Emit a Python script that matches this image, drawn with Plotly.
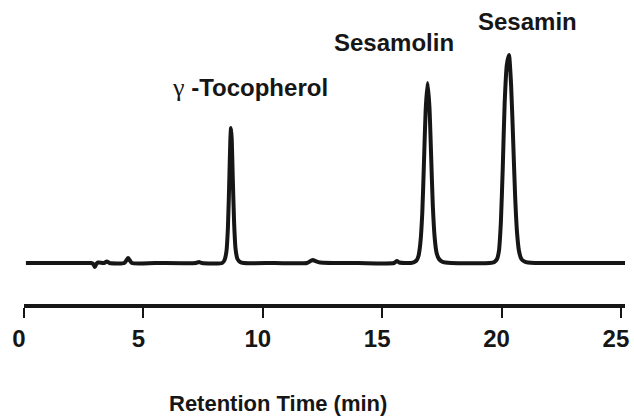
import plotly.graph_objects as go

# Retention time (min) and detector response (arbitrary units, baseline = 0)
time_min = [
    0.08, 1.0, 2.0, 2.6, 2.80, 2.90, 2.97, 3.03, 3.10, 3.35, 3.47, 3.58,
    4.20, 4.30, 4.36, 4.42, 4.52, 5.5, 7.20, 7.33, 7.45,
    8.30, 8.40, 8.48, 8.54, 8.60, 8.64, 8.67, 8.70, 8.74, 8.80, 8.86, 8.94, 9.05, 9.20,
    10.5, 11.85, 12.00, 12.10, 12.20, 12.40, 14.0, 15.50, 15.62, 15.72,
    16.20, 16.35, 16.45, 16.52, 16.60, 16.68, 16.75, 16.82, 16.90, 16.98, 17.05,
    17.12, 17.20, 17.28, 17.38, 17.50, 17.65, 17.90,
    19.50, 19.70, 19.81, 19.89, 19.97, 20.05, 20.13, 20.22, 20.31, 20.40, 20.49,
    20.57, 20.65, 20.73, 20.83, 20.96, 21.11, 21.40, 23.0, 25.17,
]
signal = [
    0.0, 0.0, 0.0, 0.0, 0.0, -1.0, -4.0, -1.0, 0.5, 0.0, 1.5, 0.0,
    0.0, 3.0, 5.0, 3.0, 0.0, 0.0, 0.0, 1.0, 0.0,
    0.0, 3.0, 12.0, 35.0, 85.0, 122.0, 135.0, 124.0, 88.0, 40.0, 14.0, 4.0, 1.0, 0.0,
    0.0, 0.0, 2.0, 3.0, 2.0, 0.5, 0.0, 0.0, 2.0, 0.5,
    0.0, 1.0, 3.0, 7.0, 20.0, 50.0, 100.0, 152.0, 180.0, 156.0, 108.0,
    58.0, 25.0, 10.0, 4.0, 1.5, 0.5, 0.0,
    0.0, 1.0, 4.0, 12.0, 40.0, 95.0, 160.0, 198.0, 208.0, 178.0, 120.0,
    66.0, 30.0, 12.0, 4.0, 1.5, 0.5, 0.0, 0.0, 0.0,
]

tick_values = [0, 5, 10, 15, 20, 25]
tick_labels = ["0", "5", "10", "15", "20", "25"]

peak_names = ["<span style='font-family:Liberation Serif;font-weight:normal;font-size:26px'>\u03b3</span> -Tocopherol",
              "Sesamolin", "Sesamin"]
peak_label_x = [9.46, 15.49, 21.08]
peak_label_y = [176, 221, 242]

axis_title = "Retention Time (min)"

INK = "#161616"
FONT = "Liberation Sans, Arial, Helvetica, sans-serif"

fig = go.Figure()
fig.add_trace(go.Scatter(
    x=time_min, y=signal, mode="lines",
    line=dict(color=INK, width=4, shape="spline", smoothing=0.6),
    hoverinfo="skip", showlegend=False,
))

for name, lx, ly in zip(peak_names, peak_label_x, peak_label_y):
    fig.add_annotation(
        x=lx, y=ly, xref="x", yref="y", text=name, showarrow=False,
        font=dict(family=FONT, size=24, color=INK, weight="bold"),
        xanchor="center", yanchor="middle",
    )

fig.add_annotation(
    x=0.4226, y=-0.3257, xref="paper", yref="paper", text=axis_title, showarrow=False,
    font=dict(family=FONT, size=22, color=INK, weight="bold"),
    xanchor="center", yanchor="middle",
)

fig.update_layout(
    width=634, height=417,
    margin=dict(l=24, r=9, t=0, b=113, autoexpand=False),
    paper_bgcolor="white", plot_bgcolor="white",
    xaxis=dict(
        range=[0, 25.17], showgrid=False, zeroline=False, automargin=False,
        showline=True, linecolor=INK, linewidth=4,
        ticks="outside", ticklen=10, tickwidth=2, tickcolor=INK,
        tickvals=tick_values, ticktext=tick_labels, ticklabeloverflow="allow",
        ticklabelshift=-5,
        tickfont=dict(family=FONT, size=24, color=INK, weight="bold"),
    ),
    yaxis=dict(range=[-41, 263], visible=False, automargin=False),
)

fig.write_html("out.html", config={"displayModeBar": False},
               post_script="document.body.style.margin='0';")
